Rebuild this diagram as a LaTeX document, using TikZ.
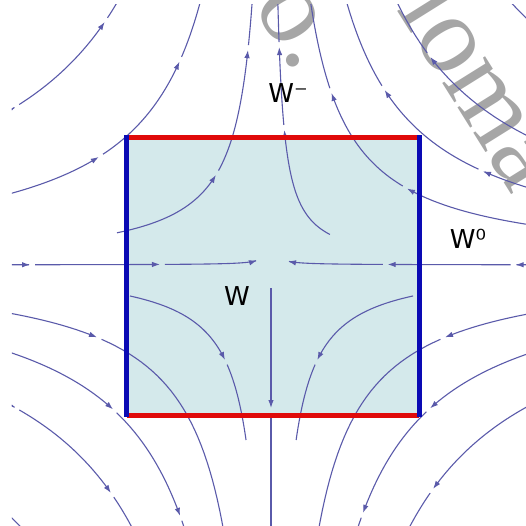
\documentclass[tikz,border=0pt]{standalone}
\usepackage{fontspec}
\usepackage{tikz}
\usetikzlibrary{arrows.meta}
\usepackage{xcolor}
\newfontfamily\labelfont{DejaVu Sans}
\newfontfamily\markfont{Liberation Serif}
\definecolor{Flow}{HTML}{5A5AAA}
\definecolor{Region}{HTML}{D4E9EB}
\definecolor{EdgeRed}{HTML}{E00A0A}
\definecolor{EdgeBlue}{HTML}{0A0AB4}
\definecolor{Watermark}{HTML}{A6A6A6}

% streamline u = su*k*e^{-t}, v = sv*k*e^{t}: [opts]{su}{sv}{k}{t start}{arrow t list}{t end}
\newcommand\flowline[7][]{%
  \gdef\tfrom{#5}\gdef\tgap{0}%
  \foreach \ta in {#6}{%
    \pgfmathsetmacro\tstart{\tfrom+\tgap/(#4*sqrt(exp(-2*\tfrom)+exp(2*\tfrom)))}%
    \draw[stream, streamtip] plot[domain=\tstart:\ta, samples=30] ({#2*#4*exp(-\x)},{#3*#4*exp(\x)});
    \xdef\tfrom{\ta}\gdef\tgap{5}}%
  \pgfmathsetmacro\tstart{\tfrom+\tgap/(#4*sqrt(exp(-2*\tfrom)+exp(2*\tfrom)))}%
  \draw[stream, #1] plot[domain=\tstart:#7, samples=30] ({#2*#4*exp(-\x)},{#3*#4*exp(\x)});
}

\begin{document}
\begin{tikzpicture}[x=1pt, y=1pt,
    stream/.style={Flow, line width=1.1pt},
    streamtip/.style={-{Latex[length=8pt, width=5.5pt]}},
    redge/.style={EdgeRed, line width=5pt},
    bedge/.style={EdgeBlue, line width=5pt},
    lbl/.style={font=\labelfont\fontsize{26}{30}\selectfont, inner sep=0pt, anchor=base},
    wmark/.style={Watermark, font=\markfont\fontsize{110}{130}\selectfont, rotate=-58, inner sep=0pt, anchor=base west}
]
\useasboundingbox (-271,-260) rectangle (255,265);

% Watermark
\begin{scope}
\clip (-271,-260) rectangle (255,265);
\node[wmark] (mark1) at (125,256) {loma};
\node[wmark] (mark2) at (-19,260) {o.};
\end{scope}

% Region W
\fill[Region] (-144,128) rectangle (148,-150);

% Streamlines
\begin{scope}
\clip (-259,-260) rectangle (255,260);
% upper left
\flowline{-1}{1}{201}{-0.3}{-0.242,0.19}{0.3}
\flowline{-1}{1}{136.4}{-0.7}{-0.233,0.40}{0.7}
\flowline{-1}{1}{70.4}{-0.783}{0.246,1.116}{1.35}
% upper right
\flowline{1}{1}{42.4}{-0.33}{1.158,1.637}{1.85}
\flowline{1}{1}{102}{-0.95}{-0.288,0.523}{0.95}
\flowline{1}{1}{141}{-0.62}{-0.408,0.216}{0.65}
\flowline{1}{1}{182}{-0.37}{0.134}{0.4}
\flowline{1}{1}{251}{-0.3}{-0.2}{0.1}
% lower left
\flowline{-1}{-1}{66.1}{-0.758}{0.363}{0.974}
\flowline{-1}{-1}{112.2}{-0.87}{-0.439}{0.87}
\flowline{-1}{-1}{151}{-0.57}{-0.045,0.508}{0.57}
\flowline{-1}{-1}{191}{-0.33}{-0.293,0.177}{0.33}
\flowline{-1}{-1}{256}{-0.3}{0.2}{0.3}
% lower right
\flowline{1}{-1}{66.3}{-0.762}{0.36}{0.971}
\flowline{1}{-1}{112.2}{-0.87}{-0.439}{0.87}
\flowline{1}{-1}{151}{-0.57}{-0.052,0.496}{0.57}
\flowline{1}{-1}{190.5}{-0.33}{0.162}{0.33}
% axes
\flowline[streamtip]{-1}{1}{8}{-3.55}{-3.405,-2.63}{-0.56}
\flowline[streamtip]{1}{1}{8}{-3.55}{-3.42,-2.68}{-0.754}
\draw[stream, streamtip] (0,-23) -- (0,-143);
\draw[stream] (0,-148) -- (0,-270);
\end{scope}

% Boundary of W
\draw[redge] (-144,128) -- (148,128);
\draw[redge] (-144,-150) -- (148,-150);
\draw[bedge] (-144,130) -- (-144,-152);
\draw[bedge] (148,130) -- (148,-152);

% Labels
\node[lbl] (wminus) at (17,162) {W⁻};
\node[lbl] (w) at (-34,-40) {W};
\node[lbl] (wzero) at (197,17) {W⁰};

\end{tikzpicture}
\end{document}
